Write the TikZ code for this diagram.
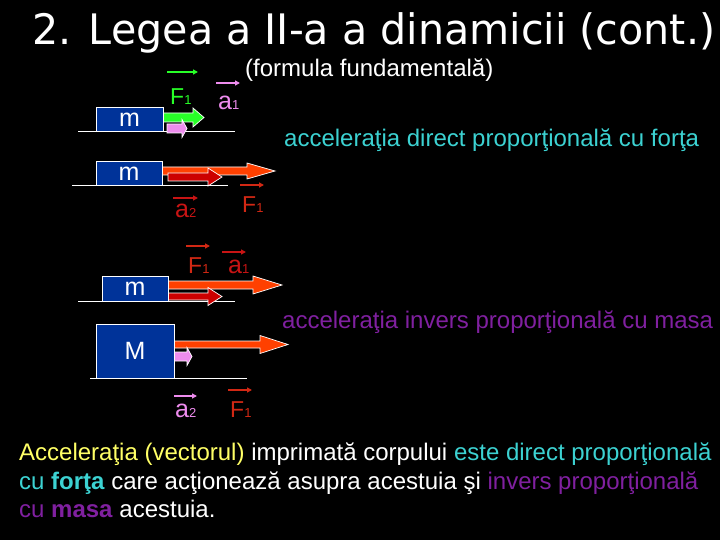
\documentclass[tikz,border=0pt]{standalone}
\usepackage{fontspec}
\usepackage{graphicx}
\setmainfont{Liberation Sans}
\newfontfamily\titlefont{DejaVu Sans}
\usetikzlibrary{arrows.meta}
\definecolor{boxblue}{RGB}{0,51,153}
\definecolor{fgreen}{RGB}{40,255,40}
\definecolor{apink}{RGB}{238,140,238}
\definecolor{forange}{RGB}{255,64,0}
\definecolor{adred}{RGB}{204,0,0}
\definecolor{lblred}{RGB}{210,40,20}
\definecolor{lbldark}{RGB}{200,20,20}
\definecolor{ccyan}{RGB}{60,210,210}
\definecolor{cpurple}{RGB}{128,32,160}
\definecolor{cyellow}{RGB}{255,255,102}
\newcommand\sbs[1]{{\fontsize{13}{13}\selectfont #1}}
\newcommand\blockarrow[7]{%
  \filldraw[fill=#1, draw=white, line width=0.7pt, line join=miter]
    (#2,{#5-#6}) -- (#3,{#5-#6}) -- (#3,{#5-#7}) -- (#4,#5) --
    (#3,{#5+#7}) -- (#3,{#5+#6}) -- (#2,{#5+#6}) -- cycle;}
\tikzset{
  blk/.style={draw=white, line width=1pt, fill=boxblue, text=white,
    font=\fontsize{25}{28}\selectfont, inner sep=0pt},
  ground/.style={draw=white, line width=1pt},
  flbl/.style={anchor=base west, inner sep=0pt, font=\fontsize{23}{26}\selectfont},
  albl/.style={anchor=base west, inner sep=0pt, font=\fontsize{25}{28}\selectfont},
  vecar/.style={line width=1.4pt, -{Triangle[length=5pt,width=5pt]}},
  txt/.style={anchor=base west, inner sep=0pt, font=\fontsize{24}{28}\selectfont}
}
\begin{document}
\begin{tikzpicture}[x=1pt,y=-1pt]
\fill[black] (0,0) rectangle (720,540);
\useasboundingbox (0,0) rectangle (720,540);

% title
\node[anchor=base west, inner sep=0pt, text=white, font=\titlefont\fontsize{42}{46}\selectfont]
  (title) at (32,45) {\resizebox{683pt}{\height}{2. Legea a II-a a dinamicii (cont.)}};
\node[txt, text=white] (sub) at (245,77) {(formula fundamentală)};

% ---- block 1
\draw[ground] (78,132) -- (235,132);
\node[blk, minimum width=67pt, minimum height=24pt] (m1) at (129.5,120) {m};
\blockarrow{fgreen}{163.5}{193}{204}{117.5}{4.5}{9.5}
\blockarrow{apink}{167}{182}{187}{128.5}{4.5}{9}
\node[flbl, text=fgreen] (F1a) at (170,105) {F\sbs{1}};
\draw[vecar, fgreen] (167,72) -- (198,72);
\node[albl, text=apink] (a1a) at (218,110) {a\sbs{1}};
\draw[vecar, apink] (216,83) -- (240,83);
\node[txt, text=ccyan] (t1) at (284,147) {acceleraţia direct proporţională cu forţa};

% ---- block 2
\draw[ground] (72,186) -- (228,186);
\node[blk, minimum width=66pt, minimum height=24pt] (m2) at (129,174) {m};
\blockarrow{forange}{162.5}{247}{275}{171}{4}{8}
\blockarrow{adred}{168}{208}{222}{177}{4}{9}
\node[albl, text=lbldark] (a2b) at (175,218) {a\sbs{2}};
\draw[vecar, lbldark] (173,198) -- (198,198);
\node[flbl, text=lblred] (F1b) at (242,213) {F\sbs{1}};
\draw[vecar, lblred] (240,185) -- (264,185);

% ---- block 3
\draw[ground] (78,301) -- (235,301);
\node[blk, minimum width=66pt, minimum height=25pt] (m3) at (135,288.5) {m};
\blockarrow{forange}{168.5}{253}{282}{285}{4}{9}
\blockarrow{adred}{168.5}{208}{222}{296.5}{3.5}{9}
\node[flbl, text=lblred] (F1c) at (188,273) {F\sbs{1}};
\draw[vecar, lblred] (186,246) -- (210,246);
\node[albl, text=lbldark] (a1c) at (228,273) {a\sbs{1}};
\draw[vecar, lbldark] (222,252) -- (246,252);
\node[txt, text=cpurple] (t2) at (282,328) {acceleraţia invers proporţională cu masa};

% ---- block 4
\draw[ground] (90,378) -- (247,378);
\node[blk, minimum width=78pt, minimum height=54pt] (M4) at (135,351) {M};
\blockarrow{forange}{174.5}{260}{288}{344.5}{3.5}{9}
\blockarrow{apink}{174.5}{187}{192}{356.5}{4.5}{9}
\node[albl, text=apink] (a2d) at (175,417) {a\sbs{2}};
\draw[vecar, apink] (174,396) -- (197,396);
\node[flbl, text=lblred] (F1d) at (230,417) {F\sbs{1}};
\draw[vecar, lblred] (228,390) -- (252,390);

% ---- bottom text
\node[txt, text=white] (b1) at (19,460) {\textcolor{cyellow}{Acceleraţia (vectorul)} imprimată corpului \textcolor{ccyan}{este direct proporţională}};
\node[txt, text=white] (b2) at (19,489) {\textcolor{ccyan}{cu \textbf{forţa}} care acţionează asupra acestuia şi \textcolor{cpurple}{invers proporţională}};
\node[txt, text=white] (b3) at (19,517) {\textcolor{cpurple}{cu \textbf{masa}} acestuia.};
\end{tikzpicture}
\end{document}
